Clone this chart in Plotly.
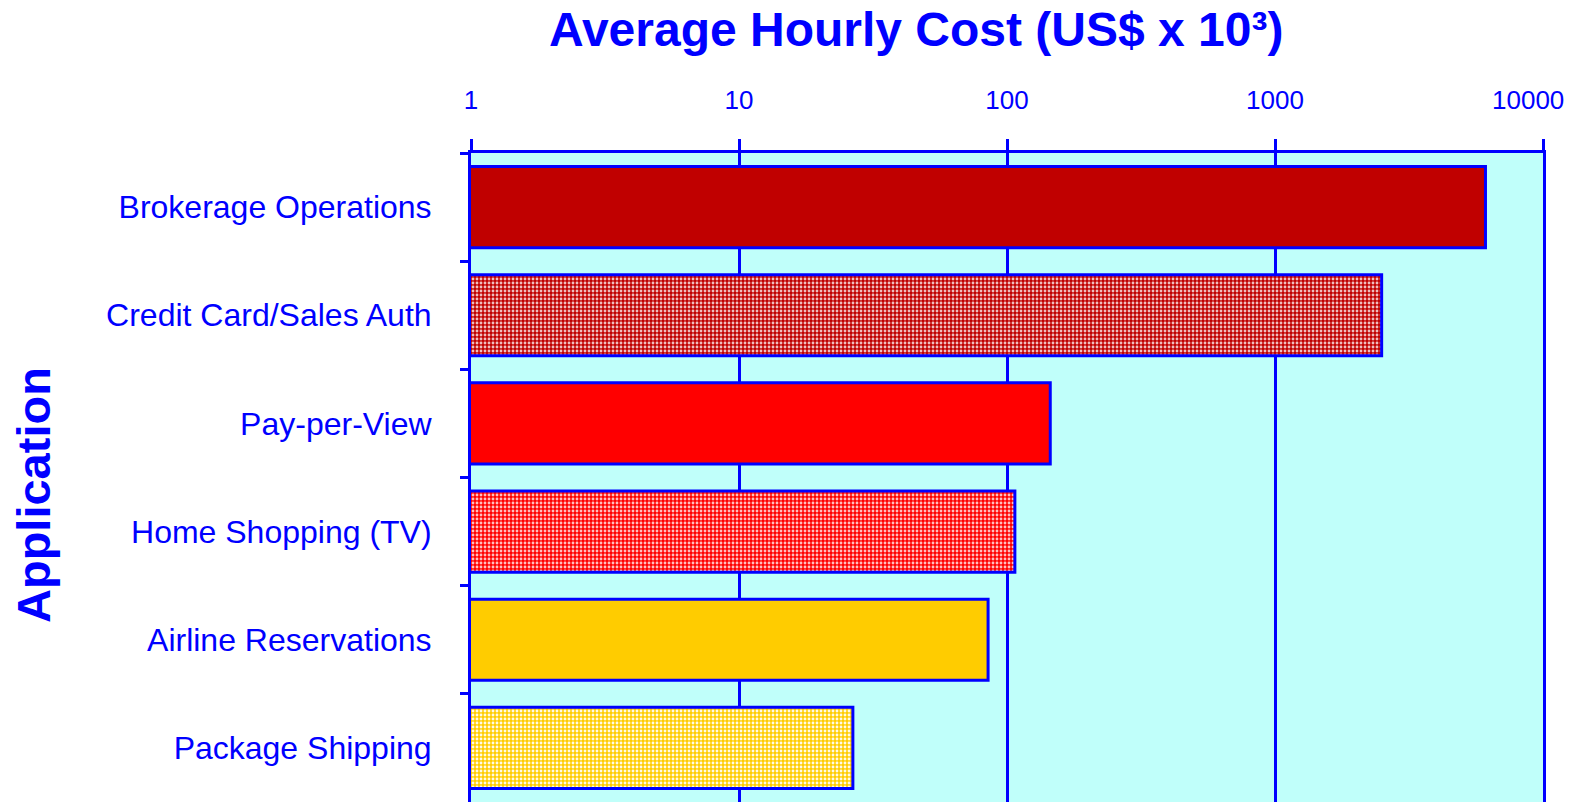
import plotly.graph_objects as go

categories = ["Brokerage Operations", "Credit Card/Sales Auth", "Pay-per-View",
              "Home Shopping (TV)", "Airline Reservations", "Package Shipping"]
values = [6100, 2500, 145, 107, 85, 26.6]
tick_vals = [1, 10, 100, 1000, 10000]
tick_text = ["1", "10", "100", "1000", "10000"]

bar_colors = ["#C00000", "#C00000", "#FF0000", "#FF0000", "#FFCC00", "#FFCC00"]
bar_patterns = ["", ".", "", ".", "", "."]
dot_opacity = [1, 0.75, 1, 0.75, 1, 0.9]

BLUE = "#0000FF"
FONT = "Liberation Sans, Arial, sans-serif"
W, H = 1577, 802
L, R, T, B = 471, 34, 153, 0

fig = go.Figure()
for cat, val, col, pat, op in zip(categories, values, bar_colors, bar_patterns, dot_opacity):
    fig.add_trace(go.Bar(
        y=[cat], x=[val], orientation="h", width=0.75,
        marker=dict(color=col, line=dict(color=BLUE, width=3),
                    pattern=dict(shape=pat, fgcolor="#FFFFFF", bgcolor=col, fgopacity=op,
                                 size=4, solidity=0.4, fillmode="replace")),
        showlegend=False,
    ))

fig.update_layout(
    width=W, height=H,
    margin=dict(l=L, r=R, t=T, b=B),
    paper_bgcolor="white", plot_bgcolor="#C0FFFA",
    font=dict(family=FONT, color=BLUE),
    barmode="overlay",
    xaxis=dict(type="log", side="top", range=[0, 4], tickvals=tick_vals,
               ticktext=tick_text[:-1] + [""],
               tickfont=dict(size=26, color=BLUE), ticks="outside", ticklen=11, tickwidth=3,
               tickcolor=BLUE, ticklabelstandoff=20, automargin=False,
               showgrid=True, gridcolor=BLUE, gridwidth=2.5,
               showline=True, linecolor=BLUE, linewidth=3, zeroline=False),
    yaxis=dict(autorange="reversed", categoryorder="array", categoryarray=categories,
               tickson="boundaries", ticks="outside", ticklen=8,
               tickwidth=3, tickcolor=BLUE, tickfont=dict(size=32, color=BLUE),
               ticklabelstandoff=30, showgrid=False, automargin=False,
               showline=True, linecolor=BLUE, linewidth=3, mirror=True),
    annotations=[
        dict(text=tick_text[-1], xref="paper", yref="paper", x=1, xanchor="right", xshift=23,
             y=1 + (T - 100) / (H - T), yanchor="middle", showarrow=False,
             font=dict(size=26, color=BLUE, family=FONT)),
        dict(text="<b>Average Hourly Cost (US$ x 10³)</b>", xref="paper", yref="paper",
             x=(916 - L) / (W - L - R), y=1 + (T - 30) / (H - T),
             xanchor="center", yanchor="middle", showarrow=False,
             font=dict(size=48, color=BLUE, family=FONT)),
        dict(text="<b>Application</b>", xref="paper", yref="paper", textangle=-90,
             x=(33 - L) / (W - L - R), y=1 - (495 - T) / (H - T),
             xanchor="center", yanchor="middle", showarrow=False,
             font=dict(size=47, color=BLUE, family=FONT)),
    ],
)

fig.write_html("out.html", config={"displayModeBar": False},
               post_script="document.body.style.margin='0';")
